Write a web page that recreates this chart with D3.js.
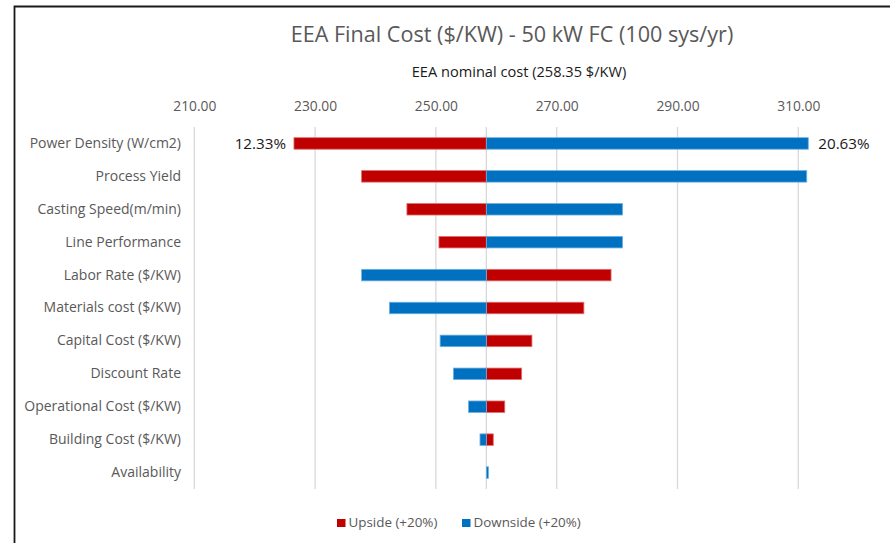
<!DOCTYPE html>
<html>
<head>
<meta charset="utf-8">
<script src="https://cdn.jsdelivr.net/npm/d3@7"></script>
<style>
  body { margin: 0; background: #fff; }
  svg { display: block; font-family: "Open Sans", sans-serif; }
</style>
</head>
<body>
<svg id="chart" width="890" height="543"></svg>
<script>
// values
const nominal = 258.35;
const categories = [
  "Power Density (W/cm2)", "Process Yield", "Casting Speed(m/min)", "Line Performance",
  "Labor Rate ($/KW)", "Materials cost ($/KW)", "Capital Cost ($/KW)", "Discount Rate",
  "Operational Cost ($/KW)", "Building Cost ($/KW)", "Availability"
];
const upside = [226.50, 237.7, 245.2, 250.5, 279.0, 274.5, 265.9, 264.2, 261.4, 259.5, 258.35];
const downside = [311.65, 311.4, 280.9, 280.9, 237.7, 242.3, 250.7, 252.9, 255.4, 257.3, 258.7];
const xTicks = [210, 230, 250, 270, 290, 310];
const seriesNames = ["Upside (+20%)", "Downside (+20%)"];
const colors = ["#c00000", "#0070c0"];
const strokes = ["#e07070", "#6fb0e0"];

const svg = d3.select("#chart");

// frame (left + top lines only are visible in the reference)
svg.append("path")
  .attr("d", "M14.5,543 L14.5,6.5 L890,6.5")
  .attr("fill", "none")
  .attr("stroke", "#1a1a1a")
  .attr("stroke-width", 1.8);

const x = d3.scaleLinear().domain([210, 320]).range([194.3, 858.7]);
const y = d3.scaleBand().domain(categories).range([127, 489])
  .paddingInner(0.65).paddingOuter(0.325);

svg.append("text")
  .attr("x", 512).attr("y", 41.5)
  .attr("text-anchor", "middle")
  .attr("font-size", 21.6)
  .attr("fill", "#595959")
  .text("EEA Final Cost ($/KW) - 50 kW FC (100 sys/yr)");

svg.append("text")
  .attr("x", 519).attr("y", 77)
  .attr("text-anchor", "middle")
  .attr("font-size", 14.6)
  .attr("fill", "#1a1a1a")
  .text(`EEA nominal cost (${nominal.toFixed(2)} $/KW)`);

// gridlines
const grid = svg.append("g");
grid.selectAll("line")
  .data(xTicks.concat([nominal]))
  .join("line")
  .attr("x1", (d) => x(d)).attr("x2", (d) => x(d))
  .attr("y1", 127).attr("y2", 489)
  .attr("stroke", "#d9d9d9")
  .attr("stroke-width", 1.3);

// top axis labels
const xAxis = d3.axisTop(x).tickValues(xTicks).tickFormat(d3.format(".2f")).tickSize(0).tickPadding(0);
const xAxisGroup = svg.append("g").attr("transform", "translate(0,111)").call(xAxis);
xAxisGroup.select(".domain").remove();
xAxisGroup.selectAll("text")
  .attr("font-family", "Open Sans, sans-serif")
  .attr("font-size", 13.8)
  .attr("fill", "#595959")
  .attr("dy", 0);

// category labels
const yAxis = d3.axisLeft(y).tickSize(0).tickPadding(0);
const yAxisGroup = svg.append("g").attr("transform", "translate(181,0)").call(yAxis);
yAxisGroup.select(".domain").remove();
yAxisGroup.selectAll("text")
  .attr("font-family", "Open Sans, sans-serif")
  .attr("font-size", 14)
  .attr("fill", "#595959");

// bars
const series = [upside, downside];
series.forEach((vals, si) => {
  svg.append("g").selectAll("rect")
    .data(categories.map((c, i) => ({cat: c, v: vals[i]})))
    .join("rect")
    .attr("x", (d) => x(Math.min(d.v, nominal)))
    .attr("width", (d) => Math.abs(x(d.v) - x(nominal)))
    .attr("y", (d) => y(d.cat))
    .attr("height", y.bandwidth())
    .attr("fill", colors[si])
    .attr("stroke", (d) => Math.abs(d.v - nominal) > 0.01 ? strokes[si] : "none")
    .attr("stroke-width", 0.8);
});

// percentage labels on the widest row
const pct = d3.format(".2%");
const first = categories[0];
svg.append("text")
  .attr("x", x(upside[0]) - 8)
  .attr("y", y(first) + y.bandwidth() / 2 + 5.5)
  .attr("text-anchor", "end")
  .attr("font-size", 15.2)
  .attr("fill", "#1a1a1a")
  .text(pct((nominal - upside[0]) / nominal));
svg.append("text")
  .attr("x", x(downside[0]) + 10)
  .attr("y", y(first) + y.bandwidth() / 2 + 5.5)
  .attr("font-size", 15.2)
  .attr("fill", "#1a1a1a")
  .text(pct((downside[0] - nominal) / nominal));

// legend
const legend = svg.append("g").attr("transform", "translate(337,527)");
const legendX = [0, 125];
seriesNames.forEach((name, i) => {
  const g = legend.append("g").attr("transform", `translate(${legendX[i]},0)`);
  g.append("rect").attr("x", 0).attr("y", -8).attr("width", 8.5).attr("height", 8).attr("fill", colors[i]);
  g.append("text").attr("x", 11.5).attr("y", 0)
    .attr("font-size", 13.4)
    .attr("fill", "#595959")
    .text(name);
});
</script>
</body>
</html>
